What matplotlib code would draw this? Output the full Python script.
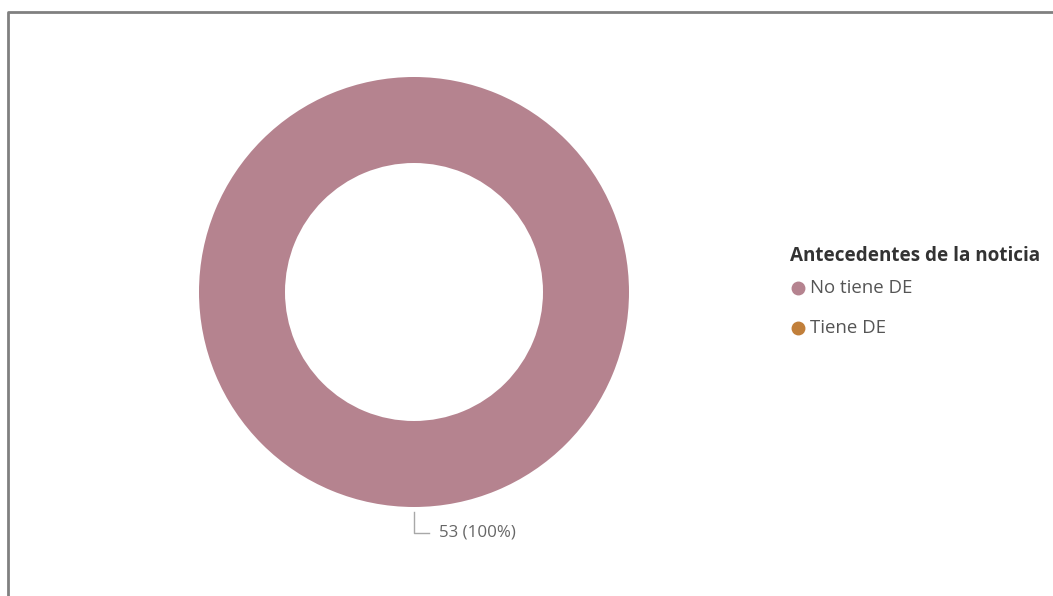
import numpy as np
import matplotlib.pyplot as plt
from matplotlib.lines import Line2D

categories = ["No tiene DE", "Tiene DE"]
values = [53, 0]
colors = ["#B5838F", "#C17F3A"]
legend_title = "Antecedentes de la noticia"

plt.rcParams['font.family'] = ['Open Sans', 'DejaVu Sans']

W, H = 1053, 596
fig = plt.figure(figsize=(W / 100, H / 100), dpi=100)
fig.patch.set_facecolor("white")

# donut placement in pixels
cx, cy, r = 414, 292, 215
ax = fig.add_axes([(cx - r) / W, (H - cy - r) / H, 2 * r / W, 2 * r / H])

wedges, _ = ax.pie(values, colors=colors, radius=1.0, startangle=90,
                   counterclock=False,
                   wedgeprops=dict(width=0.4, edgecolor="none"))
ax.set_xlim(-1, 1)
ax.set_ylim(-1, 1)
ax.set_aspect("auto")
ax.axis("off")

# data label with leader line at each non-empty wedge's middle angle
total = sum(values)
start = 90.0
for v in values:
    sweep = 360.0 * v / total
    if v > 0:
        mid = np.deg2rad(start - sweep / 2)
        x0, y0 = 1.025 * np.cos(mid), 1.025 * np.sin(mid)
        x1, y1 = 1.12 * np.cos(mid), 1.12 * np.sin(mid)
        ax.plot([x0, x1, x1 + 0.07], [y0, y1, y1], color="#A8A8A8",
                lw=1.0, clip_on=False)
        ax.text(x1 + 0.115, y1, f"{v} ({v / total:.0%})", color="#666666",
                fontsize=12.2, ha="left", va="center", clip_on=False)
    start -= sweep

# legend
fig.text(790 / W, 1 - 256 / H, legend_title, fontsize=13.6, fontweight="bold",
         color="#333333", ha="left", va="center")
for i, (cat, col) in enumerate(zip(categories, colors)):
    y = 1 - (288 + 40 * i) / H
    fig.add_artist(Line2D([798 / W], [y], marker="o", markersize=9,
                          color=col, markeredgecolor=col, linestyle="none"))
    fig.text(810 / W, y, cat, fontsize=13.4, color="#555555",
             ha="left", va="center")

# panel border
fig.add_artist(Line2D([8 / W, 8 / W, 1.0], [0.0, 1 - 12 / H, 1 - 12 / H],
                      color="#808080", lw=2.0))

fig.savefig("out.png", dpi=100, facecolor="white")
